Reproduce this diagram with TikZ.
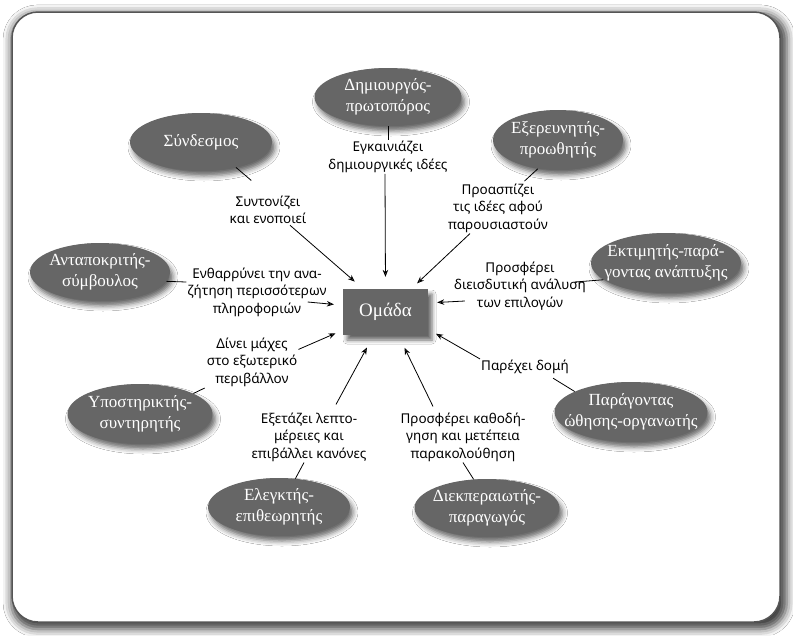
\documentclass[tikz,border=0pt]{standalone}
\usepackage{fontspec}
\setmainfont{Liberation Serif}
\newfontfamily\dutyfont{Noto Sans}
\usetikzlibrary{shapes.geometric,arrows.meta,shadows.blur}
\definecolor{rolegray}{RGB}{102,102,102}
\definecolor{framegray}{RGB}{85,85,85}

\begin{document}
\begin{tikzpicture}[x=1pt,y=-1pt,
	role/.style={ellipse,fill=rolegray,inner sep=0pt,minimum width=145pt,minimum height=58pt,
		label={[text=white,align=center,font=\fontsize{17}{21}\selectfont]center:#1},
		blur shadow={shadow xshift=3pt,shadow yshift=-5pt,shadow blur radius=5pt,shadow opacity=60}},
	duty/.style={align=center,inner sep=1pt,font=\dutyfont\fontsize{13.5}{17.5}\selectfont},
	link/.style={line width=0.8pt},
	push/.style={line width=0.8pt,-{Stealth[length=7pt,width=5.5pt]}}]
	\useasboundingbox (0,0) rectangle (793,635);
	\fill[white] (0,0) rectangle (793,635);
	\draw[line width=1.5pt,draw=framegray,fill=white,rounded corners=26pt,
		blur shadow={shadow xshift=3pt,shadow yshift=-4pt,shadow scale=1.01,shadow blur radius=8pt,shadow opacity=75}] (12,12) rectangle (780,622);

	\node[fill=rolegray,text=white,minimum width=85pt,minimum height=46pt,font=\fontsize{19}{22}\selectfont,
		blur shadow={shadow xshift=4pt,shadow yshift=-5pt,shadow blur radius=4pt,shadow opacity=60}] (team) at (385.5,312) {Ομάδα};

	\node[role={Δημιουργός-\\πρωτοπόρος},minimum width=147pt] (creator) at (388,97) {};
	\node[role={Σύνδεσμος},minimum width=142pt] (linker) at (201,142) {};
	\node[role={Εξερευνητής-\\προωθητής},minimum width=130pt,minimum height=60pt] (explorer) at (558,140) {};
	\node[role={Ανταποκριτής-\\σύμβουλος},minimum width=140pt] (advisor) at (100,272) {};
	\node[role={Εκτιμητής-παρά-\\γοντας ανάπτυξης},minimum width=150pt,minimum height=60pt] (assessor) at (666,263) {};
	\node[role={Υποστηρικτής-\\συντηρητής},minimum height=60pt] (supporter) at (140,414) {};
	\node[role={Ελεγκτής-\\επιθεωρητής},minimum width=142pt] (inspector) at (279,507) {};
	\node[role={Διεκπεραιωτής-\\παραγωγός}] (finisher) at (487,508) {};
	\node[role={Παράγοντας\\ώθησης-οργανωτής},minimum width=153pt,minimum height=60pt] (driver) at (631,412) {};

	\node[duty] (spark) at (388,157) {Εγκαινιάζει\\δημιουργικές ιδέες};
	\node[duty] (unify) at (268,210) {Συντονίζει\\και ενοποιεί};
	\node[duty] (defend) at (498,208) {Προασπίζει\\τις ιδέες αφού\\παρουσιαστούν};
	\node[duty] (search) at (257,292) {Ενθαρρύνει την ανα-\\ζήτηση περισσότερων\\πληροφοριών};
	\node[duty] (analyse) at (520,286) {Προσφέρει\\διεισδυτική ανάλυση\\των επιλογών};
	\node[duty] (fight) at (252,362) {Δίνει μάχες\\στο εξωτερικό\\περιβάλλον};
	\node[duty] (structure) at (525,367) {Παρέχει δομή};
	\node[duty] (detail) at (309,437) {Εξετάζει λεπτο-\\μέρειες και\\επιβάλλει κανόνες};
	\node[duty] (guide) at (463,437) {Προσφέρει καθοδή-\\γηση και μετέπεια\\παρακολούθηση};

	\draw[link] (creator.south) -- (spark.north);
	\draw[push,shorten >=12pt] ([xshift=-3pt]spark.south) -- (team.north);
	\draw[link,shorten >=22pt] (linker.-36) -- (unify.north);
	\draw[push,shorten >=11pt] ([xshift=22pt]unify.south) -- (team.134);
	\draw[link,shorten >=2pt] (explorer.235) -- ([xshift=25pt]defend.north);
	\draw[push,shorten >=8pt] ([xshift=-28pt]defend.south) -- (team.42);
	\draw[link] (advisor.-8) -- ([yshift=10pt]search.west);
	\draw[push,shorten >=9pt] ([xshift=-20pt,yshift=-10pt]search.east) -- (team.171);
	\draw[link] (assessor.195) -- ([xshift=-12pt,yshift=4pt]analyse.east);
	\draw[push,shorten >=9pt] ([xshift=12pt,yshift=-15pt]analyse.west) -- (team.12);
	\draw[link,shorten >=1pt] (supporter.21) -- (fight.south west);
	\draw[push,shorten >=8pt] ([yshift=-13pt]fight.north east) -- (team.203);
	\draw[link,shorten >=6pt] (driver.160) -- ([xshift=23pt]structure.south);
	\draw[push,shorten >=9pt] (structure.north west) -- (team.-22);
	\draw[link] (inspector.60) -- ([xshift=-5pt]detail.south);
	\draw[push,shorten >=14pt] ([xshift=27pt,yshift=7pt]detail.north) -- (team.243);
	\draw[link] (finisher.115) -- (guide.south);
	\draw[push,shorten >=14pt] ([xshift=-30pt,yshift=5pt]guide.north) -- (team.-61);
\end{tikzpicture}
\end{document}
